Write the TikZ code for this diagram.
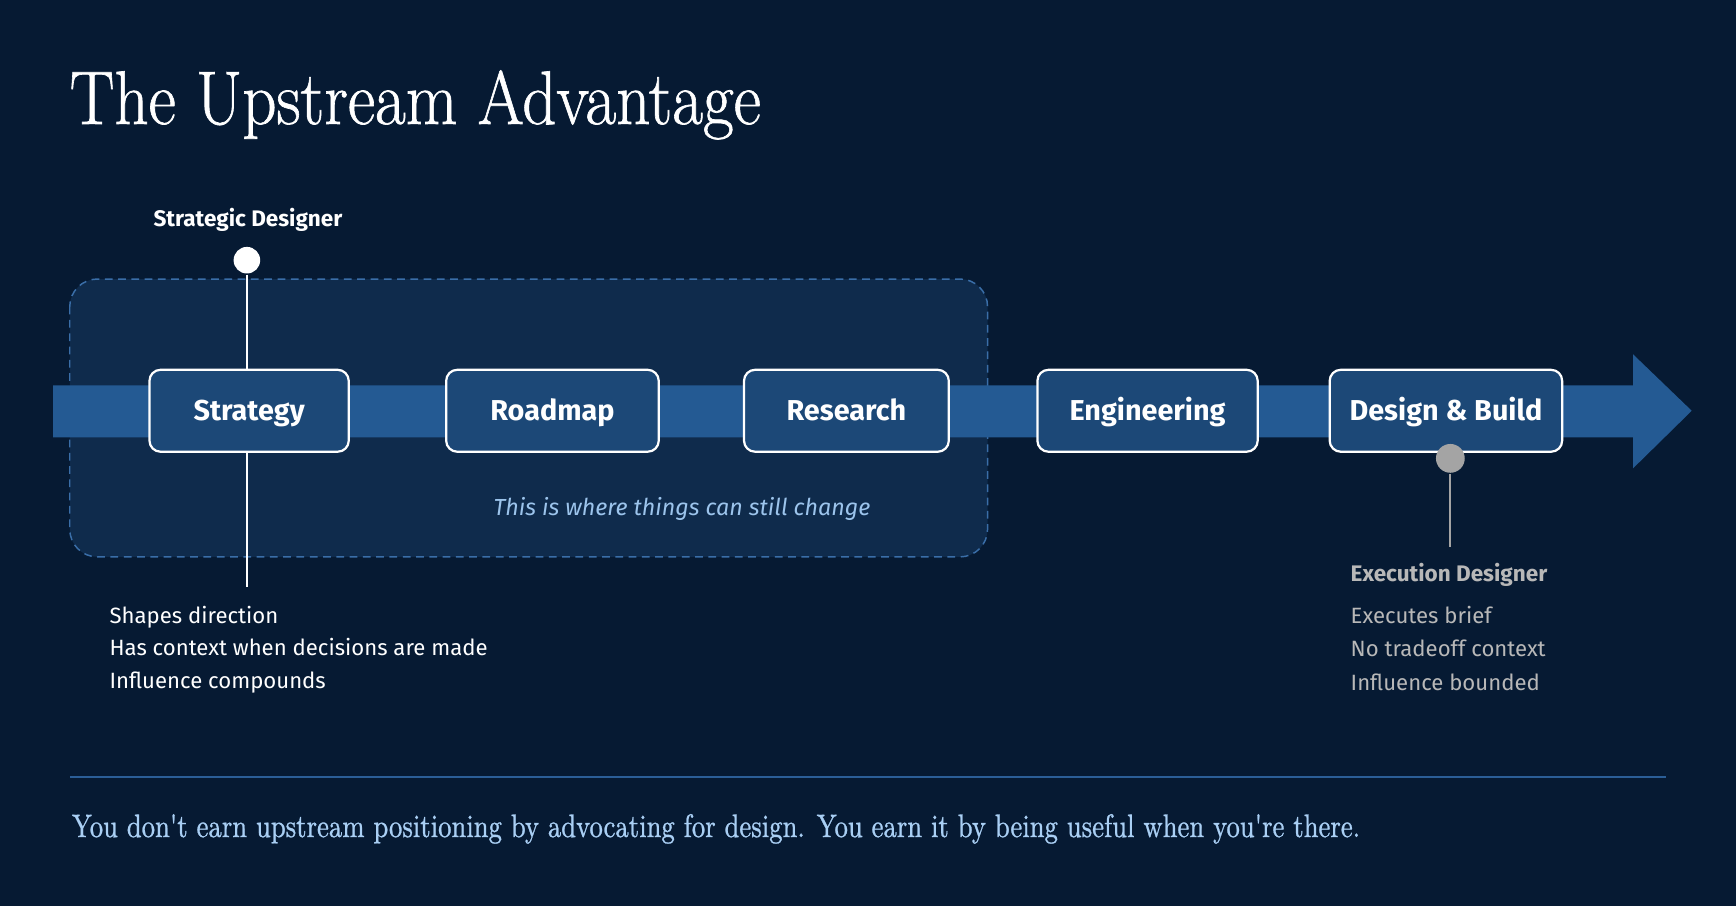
\documentclass[tikz,border=0pt]{standalone}
\usepackage{fontspec}
\usepackage{graphicx}
\setsansfont{Fira Sans}
\newfontfamily\titleserif[FakeBold=0.9]{Latin Modern Roman}

\definecolor{bgnavy}{HTML}{061A33}
\definecolor{panelblue}{HTML}{0F2B4C}
\definecolor{dashblue}{HTML}{3A6EA8}
\definecolor{bandblue}{HTML}{245A93}
\definecolor{stagefill}{HTML}{1C4877}
\definecolor{noteblue}{HTML}{9CC4EC}
\definecolor{quoteblue}{HTML}{A9CFF4}
\definecolor{pingray}{HTML}{A4A4A4}
\definecolor{execgray}{HTML}{B8B8B8}
\definecolor{ruleblue}{HTML}{2B5E97}

\tikzset{
  stage/.style={draw=white,line width=0.6pt,fill=stagefill,rounded corners=3pt,
    minimum height=22.2pt,text=white,text height=5.4pt,text depth=0pt,
    font=\sffamily\bfseries\fontsize{7.8}{9}\selectfont},
  line/.style={anchor=base west,inner sep=0pt,font=\sffamily\fontsize{6}{7}\selectfont},
  head/.style={inner sep=0pt,font=\sffamily\bfseries\fontsize{6.1}{7}\selectfont},
}

\begin{document}
\begin{tikzpicture}[x=0.3pt,y=-0.3pt,semithick]

\fill [bgnavy] (0,0) rectangle (1568,818);

\node (title) [anchor=base west,inner sep=0pt,text=white,font=\titleserif\fontsize{20.6}{24}\selectfont]
  at (62,112) {\scalebox{0.88}[1]{The Upstream Advantage}};

\path [draw=dashblue,fill=panelblue,dash pattern=on 2.1pt off 1.5pt,line width=0.4pt,
  rounded corners=7.5pt] (63,252) rectangle (892,503);

\fill [bandblue] (48,348) -- (1475,348) -- (1475,320) -- (1528,371)
  -- (1475,423) -- (1475,395) -- (48,395) -- cycle;

\node (sdot) [circle,fill=white,inner sep=0,minimum size=7.2pt] at (223,235) {};
\coordinate (send) at (223,530);
\draw [white,line width=0.6pt] (sdot) -- (send);

\node (strategy) [stage,minimum width=54pt] at (225,371) {Strategy};
\node (roadmap) [stage,minimum width=57.6pt] at (499,371) {Roadmap};
\node (research) [stage,minimum width=55.5pt] at (764.5,371) {Research};
\node (engineering) [stage,minimum width=59.7pt] at (1036.5,371) {Engineering};
\node (build) [stage,minimum width=63pt] at (1306,371) {Design \& Build};

\node (edot) [circle,fill=pingray,inner sep=0,minimum size=7.8pt] at (1310,414) {};
\coordinate (eend) at (1310,494);
\draw [pingray,line width=0.6pt] (edot) -- (eend);

\node (sdes) [head,anchor=base,text=white] at (224,205) {Strategic Designer};
\node (s1) [line,text=white] at (98,563) {Shapes direction};
\node (s2) [line,text=white] at (98,592) {Has context when decisions are made};
\node (s3) [line,text=white] at (98,622) {Influence compounds};

\node (edes) [head,anchor=base west,text=execgray] at (1219,525) {Execution Designer};
\node (e1) [line,text=execgray] at (1219,563) {Executes brief};
\node (e2) [line,text=execgray] at (1219,593) {No tradeoff context};
\node (e3) [line,text=execgray] at (1219,624) {Influence bounded};

\node (change) [anchor=base,inner sep=0pt,text=noteblue,font=\sffamily\itshape\fontsize{6.3}{7}\selectfont]
  at (616,466) {This is where things can still change};

\draw [ruleblue,line width=0.6pt] (63,702) -- (1505,702);

\node (quote) [anchor=base west,inner sep=0pt,text=quoteblue,font=\titleserif\fontsize{8.8}{10}\selectfont]
  at (64,756) {\scalebox{0.8}[1]{You don\textquotesingle t earn upstream positioning by advocating for design. You earn it by being useful when you\textquotesingle re there.}};

\end{tikzpicture}
\end{document}
